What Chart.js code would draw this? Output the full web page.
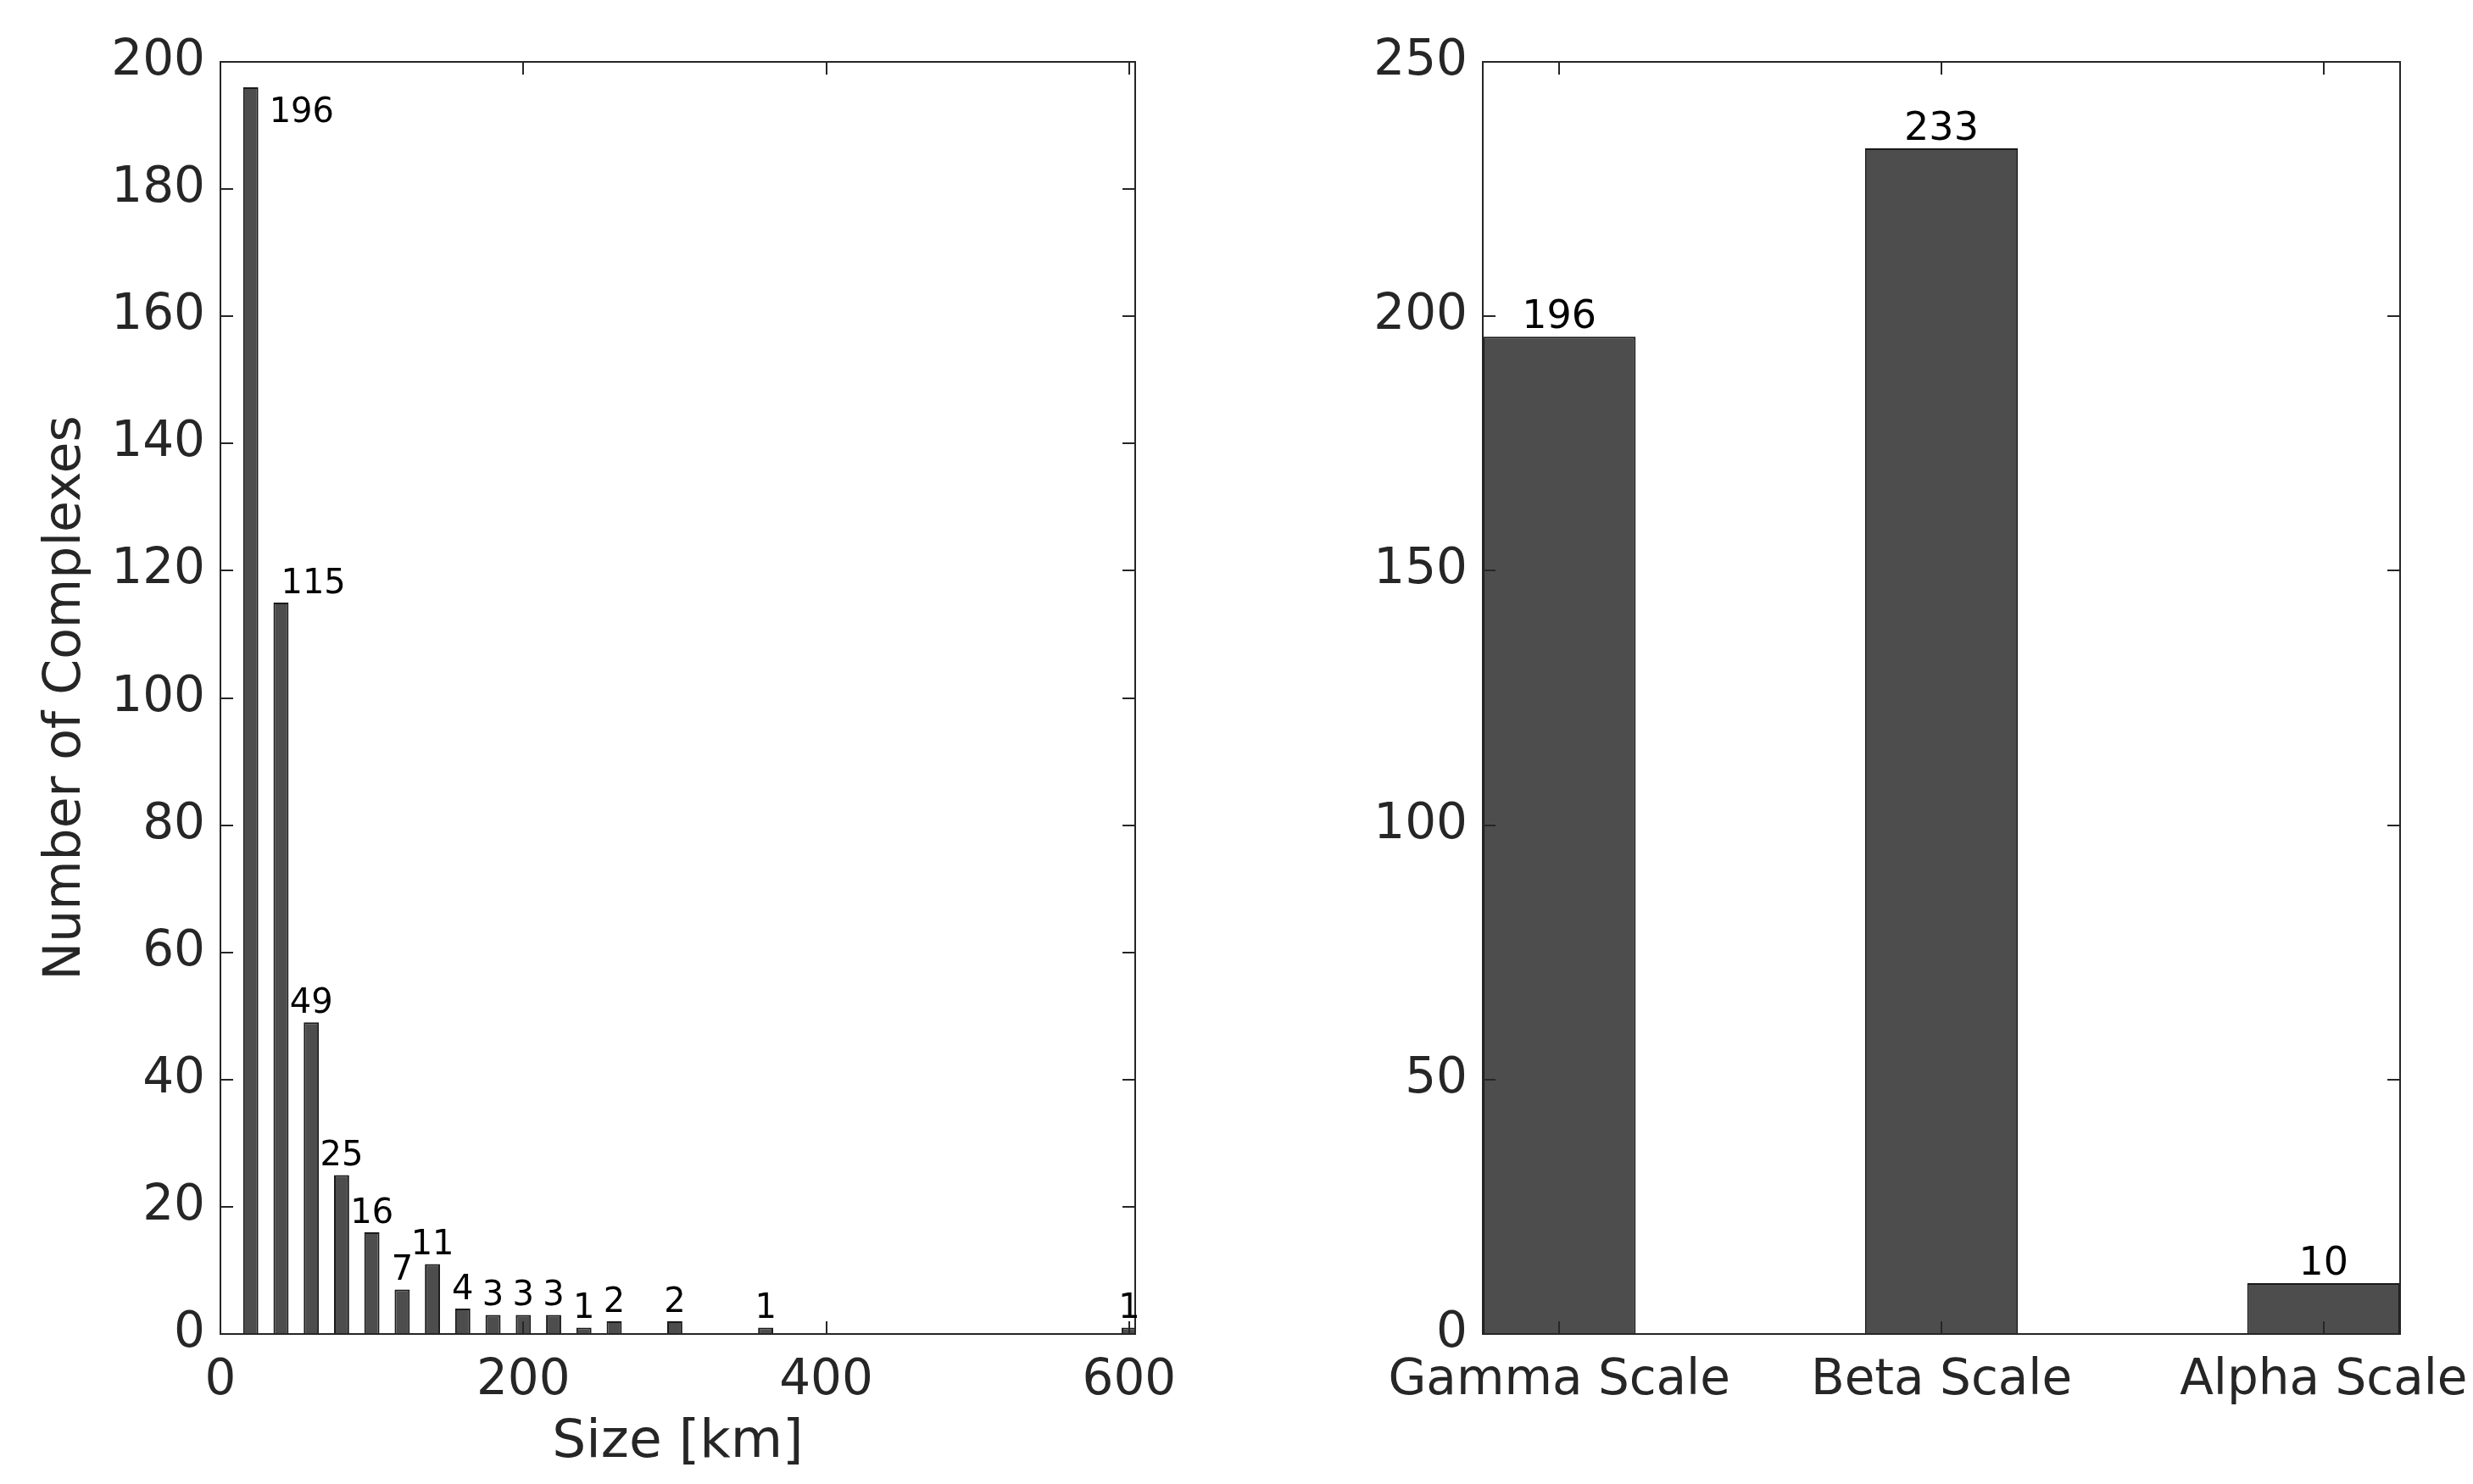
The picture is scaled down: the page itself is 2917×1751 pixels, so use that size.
<!DOCTYPE html>
<html>
<head>
<meta charset="utf-8">
<script src="https://cdn.jsdelivr.net/npm/chart.js@4.4.1/dist/chart.umd.min.js"></script>
<style>
  html, body { margin: 0; padding: 0; background: #fff; }
  .panel { position: absolute; left: 0; top: 0; width: 2917px; height: 1751px; }
</style>
</head>
<body>
<div class="panel"><canvas id="sizeChart"></canvas></div>
<div class="panel"><canvas id="scaleChart"></canvas></div>
<script>
"use strict";

// left panel: histogram of complex sizes (bin centres, km)
const sizeBins   = [20, 40, 60, 80, 100, 120, 140, 160, 180, 200, 220, 240, 260, 300, 360, 600];
const sizeCounts = [196, 115, 49, 25, 16, 7, 11, 4, 3, 3, 3, 1, 2, 2, 1, 1];
const sizeTicksX = [0, 200, 400, 600];
const sizeTicksY = [0, 20, 40, 60, 80, 100, 120, 140, 160, 180, 200];

// right panel: complexes per scale
const scaleNames  = ['Gamma Scale', 'Beta Scale', 'Alpha Scale'];
const scaleCounts = [196, 233, 10];
const scaleTicksY = [0, 50, 100, 150, 200, 250];

const FONT = '"DejaVu Sans", "Liberation Sans", sans-serif';
const AXIS_COLOR = '#262626';
const BAR_FILL = '#4d4d4d';

// MATLAB-ish box: frame + inward ticks on all four sides
const matlabBox = {
    id: 'matlabBox',
    afterDatasetsDraw(chart) {
        const { ctx, chartArea: a, scales } = chart;
        const len = 15;
        ctx.save();
        ctx.strokeStyle = AXIS_COLOR;
        ctx.lineWidth = 2;
        ctx.beginPath();
        scales.x.ticks.forEach(t => {
            const px = Math.round(scales.x.getPixelForValue(t.value));
            ctx.moveTo(px, a.bottom); ctx.lineTo(px, a.bottom - len);
            ctx.moveTo(px, a.top); ctx.lineTo(px, a.top + len);
        });
        scales.y.ticks.forEach(t => {
            const py = Math.round(scales.y.getPixelForValue(t.value));
            ctx.moveTo(a.left, py); ctx.lineTo(a.left + len, py);
            ctx.moveTo(a.right, py); ctx.lineTo(a.right - len, py);
        });
        ctx.stroke();
        ctx.strokeRect(a.left, a.top, a.right - a.left, a.bottom - a.top);
        ctx.restore();
    }
};

// count labels over the bars
const valueLabels = {
    id: 'valueLabels',
    afterDatasetsDraw(chart, args, opts) {
        const { ctx } = chart;
        const meta = chart.getDatasetMeta(0);
        const data = chart.data.datasets[0].data;
        const placement = opts.placement || {};
        const gap = opts.gap;
        ctx.save();
        ctx.font = opts.size + 'px ' + FONT;
        ctx.fillStyle = '#000';
        ctx.textBaseline = 'alphabetic';
        meta.data.forEach((bar, i) => {
            const text = String(data[i].y);
            const where = placement[i] || 'above';
            if (where === 'right') {
                ctx.textAlign = 'left';
                ctx.fillText(text, bar.x + bar.width / 2 + 13, bar.y + 41);
            } else if (where === 'aboveRight') {
                ctx.textAlign = 'left';
                ctx.fillText(text, bar.x, bar.y - gap);
            } else {
                ctx.textAlign = 'center';
                ctx.fillText(text, bar.x, bar.y - gap);
            }
        });
        ctx.restore();
    }
};

function fixedTicks(values) {
    return axis => { axis.ticks = values.map(v => ({ value: v })); };
}

function tickFont() {
    return { family: FONT, size: 58 };
}

// ---- left: size histogram ----
new Chart(document.getElementById('sizeChart'), {
    type: 'bar',
    data: {
        datasets: [{
            data: sizeBins.map((x, i) => ({ x: x, y: sizeCounts[i] })),
            backgroundColor: BAR_FILL,
            borderColor: '#1a1a1a',
            borderWidth: 2,
            barPercentage: 0.5,
            categoryPercentage: 1
        }]
    },
    options: {
        responsive: true,
        maintainAspectRatio: false,
        animation: false,
        layout: { padding: { left: 0, top: 73, right: 1578, bottom: 0 } },
        plugins: {
            legend: { display: false },
            tooltip: { enabled: false },
            valueLabels: { size: 40, gap: 11, placement: { 0: 'right', 1: 'aboveRight' } }
        },
        scales: {
            x: {
                type: 'linear',
                offset: false,
                min: 0,
                max: 604,
                afterBuildTicks: fixedTicks(sizeTicksX),
                afterFit: s => { s.height = 177; s.paddingLeft = 0; s.paddingRight = 0; },
                grid: { display: false, drawTicks: false, offset: false },
                border: { display: false },
                ticks: { font: tickFont(), color: AXIS_COLOR, padding: 21, maxRotation: 0 },
                title: {
                    display: true,
                    text: 'Size [km]',
                    font: { family: FONT, size: 63 },
                    color: AXIS_COLOR,
                    padding: { top: 0, bottom: 11 }
                }
            },
            y: {
                min: 0,
                max: 200,
                afterBuildTicks: fixedTicks(sizeTicksY),
                afterFit: s => { s.width = 260; s.paddingTop = 0; s.paddingBottom = 0; },
                grid: { display: false, drawTicks: false },
                border: { display: false },
                ticks: { font: tickFont(), color: AXIS_COLOR, padding: 18 },
                title: {
                    display: true,
                    text: 'Number of Complexes',
                    font: { family: FONT, size: 60 },
                    color: AXIS_COLOR,
                    padding: { top: 42, bottom: 0 }
                }
            }
        }
    },
    plugins: [matlabBox, valueLabels]
});

// ---- right: per scale ----
new Chart(document.getElementById('scaleChart'), {
    type: 'bar',
    data: {
        datasets: [{
            data: scaleCounts.map((v, i) => ({ x: i + 1, y: v })),
            backgroundColor: BAR_FILL,
            borderColor: '#1a1a1a',
            borderWidth: 2,
            barPercentage: 0.4,
            categoryPercentage: 1
        }]
    },
    options: {
        responsive: true,
        maintainAspectRatio: false,
        animation: false,
        layout: { padding: { left: 1460, top: 73, right: 86, bottom: 0 } },
        plugins: {
            legend: { display: false },
            tooltip: { enabled: false },
            valueLabels: { size: 46, gap: 10 }
        },
        scales: {
            x: {
                type: 'linear',
                offset: false,
                min: 0.8,
                max: 3.2,
                afterBuildTicks: fixedTicks(scaleNames.map((n, i) => i + 1)),
                afterFit: s => { s.height = 177; s.paddingLeft = 0; s.paddingRight = 0; },
                grid: { display: false, drawTicks: false, offset: false },
                border: { display: false },
                ticks: {
                    font: tickFont(),
                    color: AXIS_COLOR,
                    padding: 21,
                    maxRotation: 0,
                    autoSkip: false,
                    callback: v => scaleNames[v - 1]
                }
            },
            y: {
                min: 0,
                max: 250,
                afterBuildTicks: fixedTicks(scaleTicksY),
                afterFit: s => { s.width = 289; s.paddingTop = 0; s.paddingBottom = 0; },
                grid: { display: false, drawTicks: false },
                border: { display: false },
                ticks: { font: tickFont(), color: AXIS_COLOR, padding: 18 }
            }
        }
    },
    plugins: [matlabBox, valueLabels]
});
</script>
</body>
</html>
